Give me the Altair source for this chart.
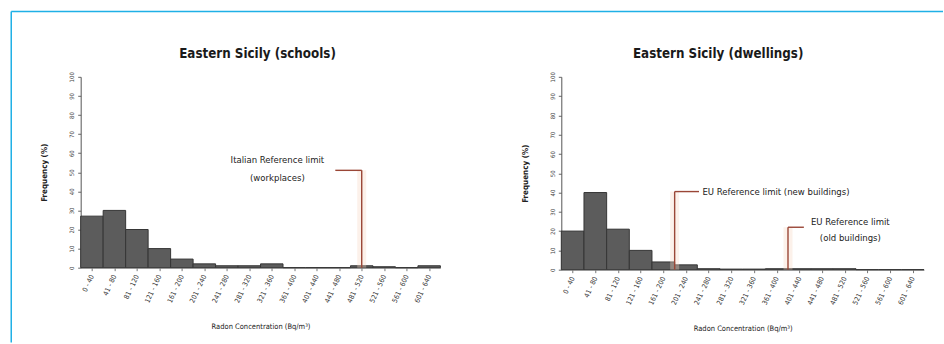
import altair as alt
import pandas as pd

# Radon concentration classes (Bq/m3): edges and tick labels
bin_edges = [0, 40, 80, 120, 160, 200, 240, 280, 320, 360, 400, 440, 480, 520, 560, 600, 640]
bin_labels = ["0 - 40", "41 - 80", "81 - 120", "121 - 160", "161 - 200", "201 - 240",
              "241 - 280", "281 - 320", "321 - 360", "361 - 400", "401 - 440", "441 - 480",
              "481 - 520", "521 - 560", "561 - 600", "601 - 640"]

# Frequency (%) of measurements per class
schools_pct = [27, 30, 20, 10, 4.5, 2, 1, 1, 2, 0, 0, 0, 1, 0.5, 0, 1]
dwellings_pct = [20, 40, 21, 10, 4, 2.5, 0.5, 0.3, 0.3, 0.5, 0.5, 0.5, 0.5, 0, 0, 0]

# Reference limits (Bq/m3)
schools_limits = [500]
dwellings_limits = [200, 400]

FONT = "Liberation Sans Narrow, Arial Narrow, DejaVu Sans Condensed, Liberation Sans, sans-serif"
LIMIT_COLOR = "#9a4636"
BORDER_COLOR = "#1fb0e6"
TEXT_COLOR = "#222222"

mids = [(a + b) / 2 for a, b in zip(bin_edges[:-1], bin_edges[1:])]
labels_js = "[" + ",".join("'" + s + "'" for s in bin_labels) + "]"
mids_js = "[" + ",".join(str(m) for m in mids) + "]"
y_ticks = list(range(0, 101, 10))


def histogram_table(values):
    return pd.DataFrame({
        "lo": bin_edges[:-1],
        "hi": bin_edges[1:],
        "label": bin_labels,
        "pct": values,
        "base": [0] * len(values),
    })


def panel(values, limits, legs, notes_center, notes_left, title, title_x, width, height, border=False):
    x_axis = alt.Axis(
        values=mids, tickCount=len(mids) + 4,
        labelExpr=f"{labels_js}[indexof({mids_js}, datum.value)]",
        labelAngle=295, labelAlign="right", labelBaseline="middle",
        labelFontSize=7, labelColor="#333333", labelFont=FONT, labelPadding=4,
        labelOverlap=False, labelFlush=False, labelBound=False,
        tickSize=3, tickColor="#777777", domainColor="#888888", grid=False,
        title="Radon Concentration (Bq/m³)", titleFont=FONT, titleFontSize=7.5,
        titleFontWeight="normal", titleColor=TEXT_COLOR, titlePadding=10,
        minExtent=45, maxExtent=45,
    )
    y_axis = alt.Axis(
        values=y_ticks, tickCount=len(y_ticks) + 4, labelAngle=270, labelAlign="center",
        labelBaseline="bottom", labelFontSize=6, labelColor="#444444", labelFont=FONT,
        labelPadding=3, labelOverlap=False, labelFlush=False, labelBound=False,
        tickSize=3, tickColor="#666666", domainColor="#555555", grid=False,
        title="Frequency (%)", titleFont=FONT, titleFontSize=8, titleFontWeight="bold",
        titleColor=TEXT_COLOR, titlePadding=2, minExtent=30, maxExtent=30,
    )
    xs = alt.Scale(domain=[bin_edges[0], bin_edges[-1]], nice=False, zero=False)
    ys = alt.Scale(domain=[0, 100], nice=False)

    bars = alt.Chart(histogram_table(values)).mark_rect(
        fill="#5c5c5c", stroke="#353535", strokeWidth=1
    ).encode(
        x=alt.X("lo:Q", scale=xs, axis=x_axis),
        x2="hi:Q",
        y=alt.Y("pct:Q", scale=ys, axis=y_axis),
        y2="base:Q",
    )

    lim_df = pd.DataFrame({"limit": limits, "top": [l["top"] for l in legs],
                           "leg_end": [l["leg_end"] for l in legs], "base": 0})
    halo = alt.Chart(lim_df).mark_rule(color="#f6d8c2", strokeWidth=9, opacity=0.35).encode(
        x="limit:Q", y="base:Q", y2="top:Q")
    vline = alt.Chart(lim_df).mark_rule(color=LIMIT_COLOR, strokeWidth=1.4).encode(
        x="limit:Q", y="base:Q", y2="top:Q")
    hline = alt.Chart(lim_df).mark_rule(color=LIMIT_COLOR, strokeWidth=1.4).encode(
        x="leg_end:Q", x2="limit:Q", y="top:Q")

    layers = [bars, halo, vline, hline]
    if notes_center:
        layers.append(alt.Chart(pd.DataFrame(notes_center)).mark_text(
            font=FONT, fontSize=9.5, color=TEXT_COLOR, align="center", baseline="middle"
        ).encode(x="x:Q", y="y:Q", text="text:N"))
    if notes_left:
        layers.append(alt.Chart(pd.DataFrame(notes_left)).mark_text(
            font=FONT, fontSize=9.5, color=TEXT_COLOR, align="left", baseline="middle"
        ).encode(x="x:Q", y="y:Q", text="text:N"))

    # panel heading
    layers.append(alt.Chart(pd.DataFrame({"t": [title]})).mark_text(
        font=FONT, fontSize=13.3, fontWeight="bold", color="#1a1a1a",
        align="center", baseline="middle"
    ).encode(text="t:N", x=alt.value(title_x), y=alt.value(-23)))

    if border:
        # page frame lines along the top and left edges
        layers.append(alt.Chart(pd.DataFrame({"k": [0]})).mark_rule(
            color=BORDER_COLOR, strokeWidth=1.5
        ).encode(x=alt.value(-69.5), x2=alt.value(863), y=alt.value(-65.5)))
        layers.append(alt.Chart(pd.DataFrame({"k": [0]})).mark_rule(
            color=BORDER_COLOR, strokeWidth=1.5
        ).encode(x=alt.value(-69.5), y=alt.value(-65.5), y2=alt.value(266)))

    return alt.layer(*layers).properties(width=width, height=height)


left = panel(
    schools_pct, schools_limits,
    legs=[{"top": 51, "leg_end": 453}],
    notes_center=[{"x": 350, "y": 56.5, "text": "Italian Reference limit"},
                  {"x": 350, "y": 47, "text": "(workplaces)"}],
    notes_left=[],
    title="Eastern Sicily (schools)", title_x=177, width=360, height=191, border=True,
)

right = panel(
    dwellings_pct, dwellings_limits,
    legs=[{"top": 40.5, "leg_end": 243}, {"top": 22, "leg_end": 428}],
    notes_center=[{"x": 510, "y": 24.5, "text": "EU Reference limit"},
                  {"x": 510, "y": 16.5, "text": "(old buildings)"}],
    notes_left=[{"x": 249, "y": 40.5, "text": "EU Reference limit (new buildings)"}],
    title="Eastern Sicily (dwellings)", title_x=157, width=363, height=193,
)

chart = alt.hconcat(left, right, spacing=121, bounds="flush").properties(
    padding={"left": 9.75, "top": 9.75, "right": 0, "bottom": 0},
    background="white",
).configure_view(stroke=None).configure_axis(labelOverlap=False)

chart.save("out.html", embed_options={"renderer": "svg", "actions": False})
